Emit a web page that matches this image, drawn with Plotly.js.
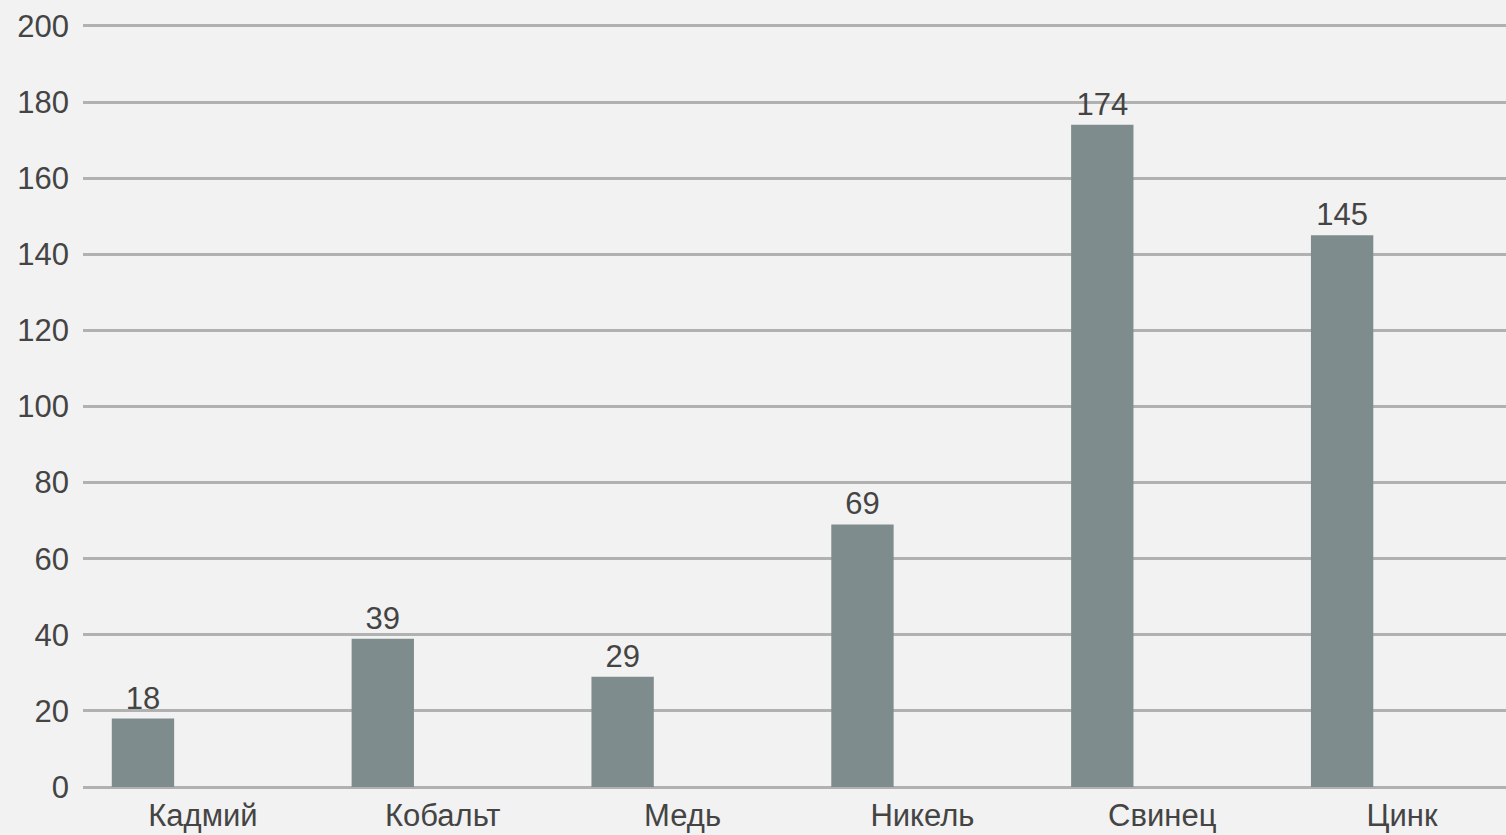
<!DOCTYPE html>
<html>
<head>
<meta charset="utf-8">
<script src="https://cdn.plot.ly/plotly-3.0.1.min.js"></script>
<style>
  html, body { margin: 0; padding: 0; background: #f2f2f2; }
  #chart { width: 1506px; height: 835px; }
</style>
</head>
<body>
<div id="chart"></div>
<script>
// Heavy metals: values per element
const metals = ['Кадмий', 'Кобальт', 'Медь', 'Никель', 'Свинец', 'Цинк'];
const values = [18, 39, 29, 69, 174, 145];
const yTicks = [0, 20, 40, 60, 80, 100, 120, 140, 160, 180, 200];

const textColor = '#444444';
const fontFamily = 'Liberation Sans, Arial, sans-serif';
const fontSize = 31;

const trace = {
  type: 'bar',
  x: metals,
  y: values,
  text: values.map(String),
  textposition: 'outside',
  cliponaxis: false,
  textfont: { family: fontFamily, size: fontSize, color: textColor },
  marker: { color: '#7f8c8d' },
  width: 0.26,
  offset: -0.38,
  hoverinfo: 'x+y'
};

const layout = {
  width: 1506,
  height: 835,
  paper_bgcolor: '#f2f2f2',
  plot_bgcolor: '#f2f2f2',
  margin: { l: 83, r: 0, t: 24, b: 46 },
  showlegend: false,
  font: { family: fontFamily, size: fontSize, color: textColor },
  xaxis: {
    type: 'category',
    range: [-0.5, 5.4333],
    showgrid: false,
    zeroline: false,
    showline: false,
    ticks: '',
    ticklabelstandoff: 5,
    tickfont: { family: fontFamily, size: fontSize, color: textColor },
    automargin: false
  },
  yaxis: {
    range: [-0.5, 200.5],
    tickvals: yTicks,
    ticktext: yTicks.map(String),
    showgrid: true,
    gridcolor: '#b1b1b1',
    gridwidth: 3,
    zeroline: false,
    showline: false,
    ticks: '',
    ticklabelstandoff: 13,
    tickfont: { family: fontFamily, size: fontSize, color: textColor },
    automargin: false
  }
};

Plotly.newPlot('chart', [trace], layout, { displayModeBar: false, staticPlot: true });
</script>
</body>
</html>
